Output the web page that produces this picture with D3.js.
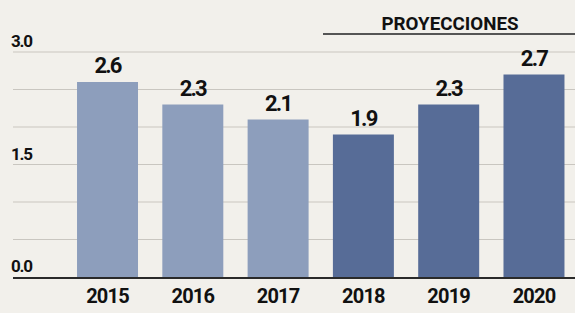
<!DOCTYPE html>
<html lang="es">
<head>
<meta charset="UTF-8">
<title>Proyecciones</title>
<script src="https://d3js.org/d3.v7.min.js"></script>
<style>
    body { margin: 0; background: #f2f0eb; }
    svg { display: block; font-family: Roboto, "DejaVu Sans", sans-serif; }
</style>
</head>
<body>
<svg id="chart"></svg>
<script>
    const years = ["2015", "2016", "2017", "2018", "2019", "2020"];
    const values = [2.6, 2.3, 2.1, 1.9, 2.3, 2.7];
    const projected = [false, false, false, true, true, true];
    const tickValues = [0, 1.5, 3.0];
    const tickLabels = ["0.0", "1.5", "3.0"];
    const gridValues = [0.5, 1, 1.5, 2, 2.5, 3];

    const width = 575, height = 313;
    const svg = d3.select("#chart").attr("width", width).attr("height", height);

    svg.append("rect").attr("width", width).attr("height", height).attr("fill", "#f2f0eb");

    const x = d3.scaleBand().domain(years).range([68.5, 573]).paddingInner(0.285).paddingOuter(0.1);
    const y = d3.scaleLinear().domain([0, 3]).range([277, 52]);

    // gridlines
    svg.append("g").selectAll("line").data(gridValues).join("line")
        .attr("x1", 13).attr("x2", width)
        .attr("y1", d => y(d)).attr("y2", d => y(d))
        .attr("stroke", "#c9c6c0").attr("stroke-width", 1.2);

    // y tick labels
    svg.append("g").selectAll("text").data(tickValues).join("text")
        .attr("x", 11).attr("y", d => y(d) - 5)
        .attr("font-size", 17).attr("font-weight", 700)
        .attr("letter-spacing", -1.2).attr("fill", "#111")
        .text((d, i) => tickLabels[i]);

    // bars
    svg.append("g").selectAll("rect").data(values).join("rect")
        .attr("x", (d, i) => x(years[i]))
        .attr("y", d => y(d))
        .attr("width", x.bandwidth())
        .attr("height", d => y(0) - y(d))
        .attr("fill", (d, i) => projected[i] ? "#576c97" : "#8d9ebc");

    // value labels
    svg.append("g").selectAll("text").data(values).join("text")
        .attr("x", (d, i) => x(years[i]) + x.bandwidth() / 2)
        .attr("y", d => y(d) - 9)
        .attr("text-anchor", "middle")
        .attr("font-size", 22).attr("font-weight", 700)
        .attr("letter-spacing", -1.8).attr("fill", "#111")
        .text(d => d.toFixed(1));

    // baseline
    svg.append("line")
        .attr("x1", 13).attr("x2", width)
        .attr("y1", y(0) + 1).attr("y2", y(0) + 1)
        .attr("stroke", "#2a2a2a").attr("stroke-width", 2);

    // x axis labels
    const xAxis = svg.append("g")
        .attr("transform", `translate(0,${y(0)})`)
        .call(d3.axisBottom(x).tickSize(0).tickPadding(12));
    xAxis.select(".domain").remove();
    xAxis.selectAll("text")
        .attr("font-size", 20).attr("font-weight", 700)
        .attr("letter-spacing", -0.8).attr("fill", "#111")
        .attr("font-family", "Roboto, sans-serif");

    // projections header
    svg.append("text")
        .attr("x", 450).attr("y", 30)
        .attr("text-anchor", "middle")
        .attr("font-size", 19).attr("font-weight", 700)
        .attr("fill", "#111")
        .attr("textLength", 137).attr("lengthAdjust", "spacingAndGlyphs")
        .text("PROYECCIONES");
    svg.append("line")
        .attr("x1", 323).attr("x2", width)
        .attr("y1", 34).attr("y2", 34)
        .attr("stroke", "#555").attr("stroke-width", 2);
</script>
</body>
</html>
